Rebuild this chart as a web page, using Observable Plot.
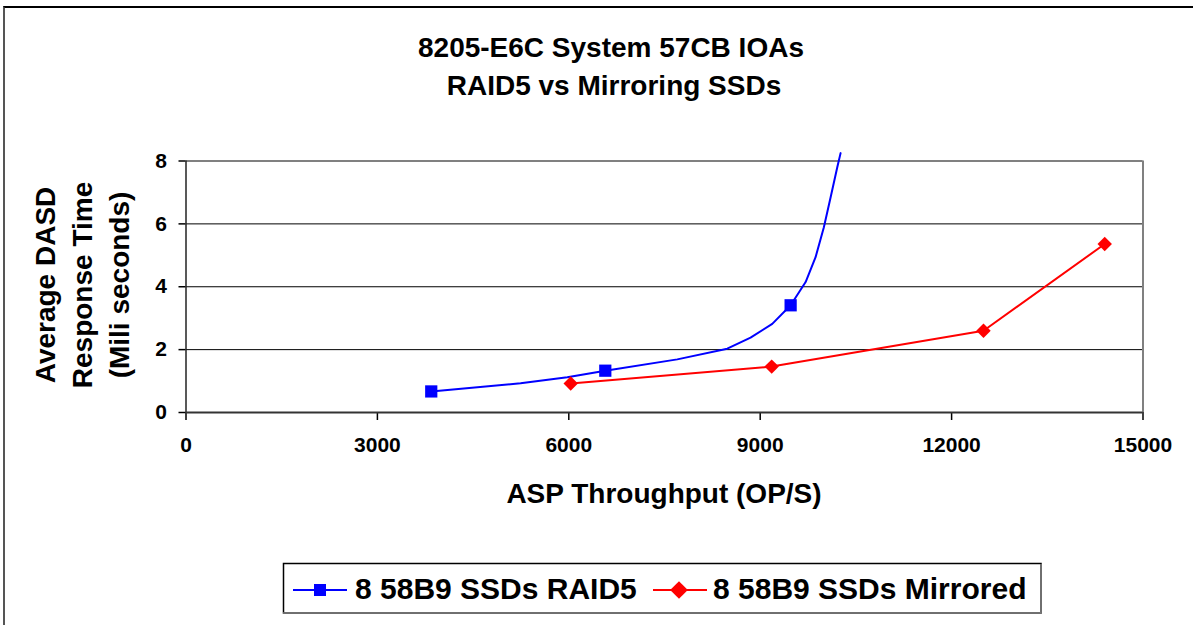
<!DOCTYPE html>
<html>
<head>
<meta charset="utf-8">
<script src="https://cdn.jsdelivr.net/npm/d3@7"></script>
<script src="https://cdn.jsdelivr.net/npm/@observablehq/plot@0.6"></script>
<style>
  html, body { margin: 0; padding: 0; background: #fff; overflow: hidden; }
  #wrap { position: relative; width: 1193px; height: 625px; overflow: hidden; }
  #frame { position: absolute; left: 3px; top: 6px; width: 2000px; height: 2000px;
           border-top: 2px solid #000; border-left: 2px solid #555; box-sizing: border-box; }
  #chart { position: absolute; left: 0; top: 0; }
</style>
</head>
<body>
<div id="wrap"><div id="frame"></div><div id="chart"></div></div>
<script>
// ---- data ----
const titleLines = ["8205-E6C System 57CB IOAs", "RAID5 vs Mirroring SSDs"];
const yLabelLines = ["Average DASD", "Response Time", "(Mili seconds)"];
const xLabel = "ASP Throughput (OP/S)";
const seriesNames = ["8 58B9 SSDs RAID5", "8 58B9 SSDs Mirrored"];
const xTicks = [0, 3000, 6000, 9000, 12000, 15000];
const yTicks = [0, 2, 4, 6, 8];

// RAID5 fitted curve (throughput, response time)
const raid5CurveX = [3844, 5244, 5976, 6572, 7700, 8484, 8849, 9189, 9477, 9712, 9868, 9998, 10103, 10208, 10260];
const raid5CurveY = [0.67, 0.93, 1.12, 1.33, 1.69, 2.03, 2.38, 2.82, 3.41, 4.15, 4.94, 5.89, 6.84, 7.80, 8.25];
// RAID5 measured points
const raid5PtsX = [3844, 6572, 9477];
const raid5PtsY = [0.67, 1.33, 3.41];
// Mirrored measured points
const mirrorX = [6030, 9180, 12500, 14400];
const mirrorY = [0.92, 1.46, 2.60, 5.36];

const BLUE = "#0000ff", RED = "#ff0000";
const FONT = "'Liberation Sans', Arial, Helvetica, sans-serif";

const raid5Curve = raid5CurveX.map((x, i) => ({x, y: raid5CurveY[i]}));
const raid5Pts = raid5PtsX.map((x, i) => ({x, y: raid5PtsY[i]}));
const mirror = mirrorX.map((x, i) => ({x, y: mirrorY[i]}));

const W = 1193, H = 625;
const plot = Plot.plot({
  width: W, height: H,
  marginLeft: 185.5, marginRight: 50.5, marginTop: 160.5, marginBottom: 213,
  style: {fontFamily: FONT, background: "transparent", overflow: "visible"},
  x: {domain: [0, 15000], ticks: xTicks, tickFormat: d => String(d)},
  y: {domain: [0, 8], ticks: yTicks, tickFormat: d => String(d)},
  marks: [
    Plot.ruleY(yTicks.filter(d => d > 0 && d < 8), {stroke: "#000", strokeWidth: 1}),
    Plot.ruleY([8], {stroke: "#808080", strokeWidth: 2}),
    Plot.ruleX([15000], {stroke: "#808080", strokeWidth: 2}),
    Plot.axisX({ticks: xTicks, tickFormat: d => String(d), tickSize: 8, tickPadding: 17,
                fontSize: 21, fontWeight: "bold", fill: "#000", stroke: "#000", strokeWidth: 1.5, strokeOpacity: 1, label: null}),
    Plot.axisY({ticks: yTicks, tickFormat: d => String(d), tickSize: 7, tickPadding: 12,
                fontSize: 21, fontWeight: "bold", fill: "#000", stroke: "#000", strokeWidth: 1.5, strokeOpacity: 1, label: null}),
    Plot.ruleX([0], {stroke: "#222", strokeWidth: 1.5}),
    Plot.ruleY([0], {stroke: "#333", strokeWidth: 2}),
    Plot.line(raid5Curve, {x: "x", y: "y", stroke: BLUE, strokeWidth: 2}),
    Plot.dot(raid5Pts, {x: "x", y: "y", symbol: "square", r: 6.9, fill: BLUE, stroke: "none"}),
    Plot.line(mirror, {x: "x", y: "y", stroke: RED, strokeWidth: 2}),
    Plot.dot(mirror, {x: "x", y: "y", symbol: "diamond2", r: 6.5, fill: RED, stroke: "none"})
  ]
});
document.getElementById("chart").appendChild(plot);

// ---- titles, axis labels, legend as text in the same SVG ----
const svg = d3.select(plot);
const g = svg.append("g").attr("font-family", FONT).attr("font-weight", "bold").attr("fill", "#000");
g.append("text").attr("x", 611).attr("y", 57).attr("text-anchor", "middle").attr("font-size", 28).text(titleLines[0]);
g.append("text").attr("x", 614).attr("y", 95).attr("text-anchor", "middle").attr("font-size", 28).text(titleLines[1]);
const yl = [55, 92, 129];
yLabelLines.forEach((t, i) => {
  g.append("text").attr("transform", `translate(${yl[i]},285) rotate(-90)`)
    .attr("text-anchor", "middle").attr("font-size", 28).text(t);
});
g.append("text").attr("x", 664).attr("y", 503).attr("text-anchor", "middle").attr("font-size", 28).text(xLabel);

// legend
const lg = svg.append("g").attr("font-family", FONT).attr("font-weight", "bold").attr("fill", "#000");
lg.append("rect").attr("x", 283.5).attr("y", 563.5).attr("width", 757.5).attr("height", 49.5)
  .attr("fill", "#fff").attr("stroke", "#000").attr("stroke-width", 1.5);
lg.append("path").attr("d", "M1041,564 V613 H283").attr("fill", "none").attr("stroke", "#808080").attr("stroke-width", 1.5);
// item 1
lg.append("line").attr("x1", 293).attr("x2", 347).attr("y1", 590).attr("y2", 590).attr("stroke", BLUE).attr("stroke-width", 2);
lg.append("path").attr("d", d3.symbol(d3.symbolSquare, 144)()).attr("transform", "translate(320,590)").attr("fill", BLUE);
lg.append("text").attr("x", 355).attr("y", 599).attr("text-anchor", "start").attr("font-size", 30).text(seriesNames[0]);
// item 2
lg.append("line").attr("x1", 653).attr("x2", 707).attr("y1", 590).attr("y2", 590).attr("stroke", RED).attr("stroke-width", 2);
lg.append("path").attr("d", d3.symbol(d3.symbolDiamond2, 200)()).attr("transform", "translate(679,590)").attr("fill", RED);
lg.append("text").attr("x", 713).attr("y", 599).attr("text-anchor", "start").attr("font-size", 30).text(seriesNames[1]);
</script>
</body>
</html>
